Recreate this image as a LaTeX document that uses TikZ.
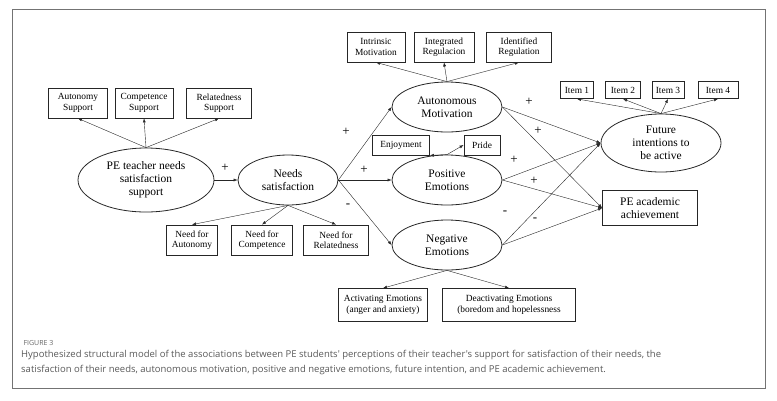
\documentclass[tikz,border=0pt]{standalone}
\usepackage{fontspec}
\setmainfont{Liberation Serif}
\newfontfamily\capfont{Open Sans}
\usetikzlibrary{shapes.geometric,arrows.meta}
\begin{document}
\begin{tikzpicture}[x=1pt,y=-1pt,
  bx/.style={draw,thick,draw=black!85,inner sep=0pt,align=center,font=\fontsize{9.4}{10.5}\selectfont},
  el/.style={draw,thick,draw=black!85,ellipse,inner sep=0pt,align=center,font=\fontsize{11.5}{13}\selectfont},
  ar/.style={-{Latex[length=4pt,width=3pt]},draw=black!85},
  lb/.style={font=\fontsize{13}{13}\selectfont}]
\useasboundingbox (0,0) rectangle (777,400);
\draw[draw=black!55,thick] (12,9) rectangle (765,388);
% left
\node[el,minimum width=136,minimum height=64] (pe) at (146,180) {PE teacher needs\\satisfaction\\support};
\node[bx,minimum width=59,minimum height=30] (as) at (78,103) {Autonomy\\Support};
\node[bx,minimum width=58,minimum height=30] (cs) at (144,103) {Competence\\Support};
\node[bx,minimum width=65,minimum height=30] (rs) at (219,103) {Relatedness\\Support};
\node[el,minimum width=100,minimum height=50] (ns) at (288,180) {Needs\\satisfaction};
\node[bx,minimum width=51,minimum height=30] (na) at (192,240) {Need for\\Autonomy};
\node[bx,minimum width=61,minimum height=30] (nc) at (262,240) {Need for\\Competence};
\node[bx,minimum width=65,minimum height=30] (nr) at (336,240) {Need for\\Relatedness};
% middle
\node[el,minimum width=110,minimum height=50] (am) at (447,107) {Autonomous\\Motivation};
\node[bx,minimum width=58,minimum height=30] (im) at (376,47) {Intrinsic\\Motivation};
\node[bx,minimum width=60,minimum height=30] (ig) at (444,47) {Integrated\\Regulacion};
\node[bx,minimum width=65,minimum height=30] (id) at (519,47) {Identified\\Regulation};
\node[el,minimum width=110,minimum height=50] (po) at (447,180) {Positive\\Emotions};
\node[bx,minimum width=57,minimum height=20] (en) at (401,145) {Enjoyment};
\node[bx,minimum width=36,minimum height=20] (pr) at (482,145) {Pride};
\node[el,minimum width=110,minimum height=50] (ne) at (447,245) {Negative\\Emotions};
\node[bx,minimum width=89,minimum height=33] (ac) at (383,305) {Activating Emotions\\(anger and anxiety)};
\node[bx,minimum width=133,minimum height=33] (de) at (509,305) {Deactivating Emotions\\(boredom and hopelessness};
% right
\node[el,minimum width=120,minimum height=58] (fi) at (661,143) {Future\\intentions to\\be active};
\node[bx,minimum width=33,minimum height=17] (i1) at (577,90) {Item 1};
\node[bx,minimum width=35,minimum height=17] (i2) at (623,90) {Item 2};
\node[bx,minimum width=32,minimum height=17] (i3) at (668,90) {Item 3};
\node[bx,minimum width=40,minimum height=17] (i4) at (718,90) {Item 4};
\node[bx,minimum width=95,minimum height=35,font=\fontsize{11.5}{13}\selectfont] (pa) at (650,208) {PE academic\\achievement};
% arrows
\foreach \t in {as,cs,rs} \draw[ar] (pe.north) -- (\t.south);
\draw[ar] (pe.east) -- (ns.west);
\foreach \t in {na,nc,nr} \draw[ar] (ns.south) -- (\t.north);
\draw[ar] (ns.east) -- (am.west);
\draw[ar] (ns.east) -- (po.west);
\draw[ar] (ns.east) -- (ne.west);
\foreach \t in {im,ig,id} \draw[ar] (am.north) -- (\t.south);
\draw[ar] (po.north) -- (en.south east);
\draw[ar] (po.north) -- (pr.west);
\draw[ar] (ne.south) -- (ac.north);
\draw[ar] (ne.south) -- (de.north);
\foreach \t in {i1,i2,i3,i4} \draw[ar] (fi.north) -- (\t.south);
\foreach \s in {am,po,ne} {\draw[ar] (\s.east) -- (fi.west); \draw[ar] (\s.east) -- (pa.west);}
% labels
\node[lb] (l1) at (225,168) {+};
\node[lb] (l2) at (346,132) {+};
\node[lb] (l3) at (364,170) {+};
\node[lb] (l4) at (348,206) {-};
\node[lb] (l5) at (529,102) {+};
\node[lb] (l6) at (538,131) {+};
\node[lb] (l7) at (514,160) {+};
\node[lb] (l8) at (534,181) {+};
\node[lb] (l9) at (505,213) {-};
\node[lb] (l10) at (535,220) {-};
% caption
\node[anchor=west,font=\capfont\fontsize{7}{7}\selectfont,text=black!60] (fig) at (20,343) {FIGURE 3};
\node[anchor=north west,align=left,font=\capfont\fontsize{9.5}{15}\selectfont,text=black!65,inner sep=0pt] (cap) at (21,350) {Hypothesized structural model of the associations between PE students' perceptions of their teacher's support for satisfaction of their needs, the\\satisfaction of their needs, autonomous motivation, positive and negative emotions, future intention, and PE academic achievement.};
\end{tikzpicture}
\end{document}
